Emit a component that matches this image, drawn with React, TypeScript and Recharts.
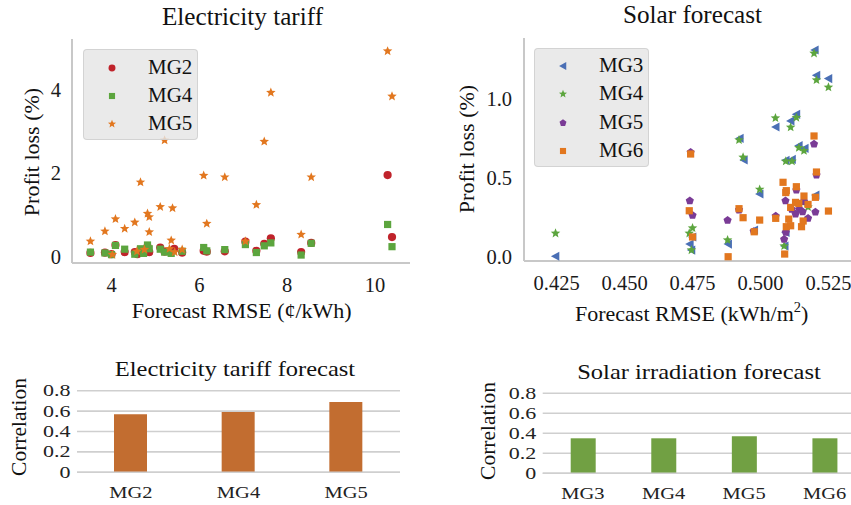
import React from "react";
import {
  ScatterChart,
  Scatter,
  BarChart,
  Bar,
  XAxis,
  YAxis,
  CartesianGrid,
} from "recharts";

// ---- tariff forecast scatter (profit loss % vs RMSE ¢/kWh)
const tariffMG2X = [3.52, 3.85, 4.0, 4.09, 4.3, 4.53, 4.59, 4.82, 4.86, 5.11, 5.21, 5.43, 5.61, 6.1, 6.17, 6.58, 7.05, 7.3, 7.48, 7.63, 8.32, 8.55, 10.29, 10.39];
const tariffMG2Y = [0.09, 0.1, 0.06, 0.28, 0.11, 0.11, 0.06, 0.24, 0.11, 0.22, 0.12, 0.19, 0.1, 0.14, 0.12, 0.13, 0.36, 0.14, 0.31, 0.44, 0.11, 0.33, 1.95, 0.47];
const tariffMG4X = [3.52, 3.85, 4.0, 4.09, 4.3, 4.53, 4.66, 4.73, 4.82, 4.86, 5.11, 5.21, 5.36, 5.61, 6.1, 6.17, 6.58, 7.05, 7.3, 7.48, 7.63, 8.32, 8.55, 10.29, 10.39];
const tariffMG4Y = [0.11, 0.09, 0.05, 0.27, 0.18, 0.06, 0.19, 0.08, 0.28, 0.19, 0.18, 0.11, 0.08, 0.13, 0.22, 0.14, 0.17, 0.29, 0.1, 0.26, 0.33, 0.04, 0.32, 0.77, 0.24];
const tariffMG5X = [3.52, 3.85, 4.02, 4.09, 4.3, 4.53, 4.58, 4.66, 4.75, 4.82, 4.86, 4.86, 5.11, 5.21, 5.32, 5.36, 5.39, 5.44, 5.61, 6.1, 6.17, 6.58, 7.05, 7.3, 7.48, 7.63, 8.32, 8.55, 10.29, 10.39];
const tariffMG5Y = [0.37, 0.61, 0.05, 0.9, 0.67, 0.82, 0.13, 1.78, 0.17, 1.03, 0.95, 0.59, 1.19, 2.78, 0.19, 0.39, 1.16, 0.11, 0.17, 1.94, 0.79, 1.9, 0.37, 1.24, 2.75, 3.92, 0.53, 1.9, 4.91, 3.83];
const tariffXTicks = [4, 6, 8, 10];
const tariffYTicks = [0, 2, 4];

// ---- solar forecast scatter (profit loss % vs RMSE kWh/m2)
const solarMG3X = [0.4246, 0.52, 0.5206, 0.525, 0.5132, 0.5111, 0.5056, 0.4924, 0.5141, 0.5163, 0.5093, 0.5116, 0.4939, 0.4997, 0.5203, 0.474, 0.4746, 0.4881, 0.5089, 0.4977, 0.5093, 0.475];
const solarMG3Y = [0.003, 1.308, 1.148, 1.127, 0.901, 0.859, 0.821, 0.749, 0.703, 0.686, 0.61, 0.616, 0.612, 0.397, 0.39, 0.08, 0.042, 0.08, 0.068, 0.169, 0.154, 0.125];
const solarMG4X = [0.4246, 0.5197, 0.5206, 0.525, 0.5132, 0.5055, 0.5111, 0.4921, 0.5141, 0.516, 0.5093, 0.5116, 0.4936, 0.4997, 0.5175, 0.475, 0.4738, 0.4746, 0.4879, 0.5087];
const solarMG4Y = [0.148, 1.287, 1.118, 1.072, 0.88, 0.878, 0.819, 0.739, 0.69, 0.671, 0.604, 0.604, 0.629, 0.426, 0.315, 0.182, 0.148, 0.042, 0.106, 0.068];
const solarMG5X = [0.474, 0.475, 0.4743, 0.4879, 0.4921, 0.5056, 0.5092, 0.5087, 0.5093, 0.5132, 0.5115, 0.5129, 0.5143, 0.5155, 0.516, 0.5175, 0.5197, 0.5206, 0.5202, 0.4975];
const solarMG5Y = [0.354, 0.262, 0.661, 0.23, 0.296, 0.258, 0.354, 0.11, 0.154, 0.422, 0.3, 0.27, 0.3, 0.285, 0.35, 0.243, 0.713, 0.517, 0.283, 0.16];
const solarMG6X = [0.4743, 0.4738, 0.475, 0.4881, 0.4921, 0.4936, 0.4997, 0.4977, 0.5056, 0.5083, 0.5095, 0.5093, 0.5089, 0.5095, 0.5111, 0.5104, 0.5111, 0.5129, 0.5132, 0.5141, 0.5151, 0.5157, 0.516, 0.5175, 0.5197, 0.5202, 0.5206, 0.525];
const solarMG6Y = [0.65, 0.291, 0.125, 0.0, 0.304, 0.247, 0.232, 0.158, 0.243, 0.471, 0.418, 0.406, 0.017, 0.19, 0.196, 0.238, 0.312, 0.344, 0.443, 0.337, 0.19, 0.226, 0.384, 0.331, 0.764, 0.376, 0.536, 0.289];
const solarXTicks = [0.425, 0.45, 0.475, 0.5, 0.525];
const solarYTicks = [0, 0.5, 1.0];

// ---- correlation bars
const tariffCats = ["MG2", "MG4", "MG5"];
const tariffCorr = [0.57, 0.59, 0.69];
const solarCats = ["MG3", "MG4", "MG5", "MG6"];
const solarCorr = [0.35, 0.35, 0.37, 0.35];
const corrTicks = [0, 0.2, 0.4, 0.6, 0.8];

const FONT = '"Liberation Serif", "Times New Roman", Times, serif';
const AXIS = "#c8c8c8";
const GRID = "#cfcfcf";
const RED = "#c0232b";
const GREEN = "#5ca53e";
const ORANGE = "#e2771f";
const BLUE = "#4a6fb5";
const PURPLE = "#7a3b96";
const BAR_ORANGE = "#c26d30";
const BAR_GREEN = "#71a043";

const zip = (xs: number[], ys: number[]) => xs.map((x, i) => ({ x, y: ys[i] }));

// marker shapes
const Dot = ({ cx, cy, fill }: any) => <circle cx={cx} cy={cy} r={4.1} fill={fill} />;
const Sq = ({ cx, cy, fill }: any) => <rect x={cx - 3.6} y={cy - 3.6} width={7.2} height={7.2} fill={fill} />;
const StarMk = ({ cx, cy, fill }: any) => {
  const pts: string[] = [];
  for (let i = 0; i < 10; i++) {
    const r = i % 2 === 0 ? 5 : 2.2;
    const a = -Math.PI / 2 + (i * Math.PI) / 5;
    pts.push(`${cx + r * Math.cos(a)},${cy + r * Math.sin(a)}`);
  }
  return <polygon points={pts.join(" ")} fill={fill} />;
};
const TriLeft = ({ cx, cy, fill }: any) => (
  <polygon points={`${cx - 4.6},${cy} ${cx + 3.8},${cy - 4.6} ${cx + 3.8},${cy + 4.6}`} fill={fill} />
);
const Pent = ({ cx, cy, fill }: any) => {
  const pts: string[] = [];
  for (let i = 0; i < 5; i++) {
    const a = -Math.PI / 2 + (i * 2 * Math.PI) / 5;
    pts.push(`${cx + 4.3 * Math.cos(a)},${cy + 4.3 * Math.sin(a)}`);
  }
  return <polygon points={pts.join(" ")} fill={fill} />;
};

const tariffSeries = [
  { name: "MG2", data: zip(tariffMG2X, tariffMG2Y), color: RED, Mk: Dot },
  { name: "MG4", data: zip(tariffMG4X, tariffMG4Y), color: GREEN, Mk: Sq },
  { name: "MG5", data: zip(tariffMG5X, tariffMG5Y), color: ORANGE, Mk: StarMk },
];
const solarSeries = [
  { name: "MG3", data: zip(solarMG3X, solarMG3Y), color: BLUE, Mk: TriLeft },
  { name: "MG4", data: zip(solarMG4X, solarMG4Y), color: GREEN, Mk: StarMk },
  { name: "MG5", data: zip(solarMG5X, solarMG5Y), color: PURPLE, Mk: Pent },
  { name: "MG6", data: zip(solarMG6X, solarMG6Y), color: ORANGE, Mk: Sq },
];

const Txt = ({ x, y, size, rotate, squash, children }: any) => (
  <div
    style={{
      position: "absolute",
      left: x,
      top: y,
      transform: `translate(-50%, -50%)${rotate ? " rotate(-90deg)" : ""}${squash ? ` scaleY(${squash})` : ""}`,
      fontSize: size,
      lineHeight: 1.1,
      whiteSpace: "nowrap",
      color: "#111",
    }}
  >
    {children}
  </div>
);

const LegendBox = ({ left, top, width, rows }: any) => (
  <div
    style={{
      position: "absolute",
      left,
      top,
      width,
      height: rows.length * 28.4 + 6,
      background: "rgba(229,229,229,0.82)",
      border: "1px solid rgba(205,205,205,0.8)",
      borderRadius: 4,
      boxSizing: "border-box",
    }}
  >
    {rows.map((s: any, i: number) => (
      <React.Fragment key={s.name}>
        <svg width={14} height={14} style={{ position: "absolute", left: 21, top: 10.5 + i * 28.4 }}>
          <g transform="translate(7,7) scale(0.85) translate(-7,-7)">
            <s.Mk cx={7} cy={7} fill={s.color} />
          </g>
        </svg>
        <div style={{ position: "absolute", left: 64, top: 17.5 + i * 28.4, transform: "translateY(-50%)", fontSize: 21, lineHeight: 1.1, color: "#111" }}>
          {s.name}
        </div>
      </React.Fragment>
    ))}
  </div>
);

const CorrYTick = ({ x, y, payload }: any) => (
  <text transform={`translate(${x - 6.5},${y}) scale(1,0.75)`} textAnchor="end" dominantBaseline="central"
    style={{ fontSize: 22, fontFamily: FONT }} fill="#222">
    {payload.value}
  </text>
);
const CorrXTick = ({ x, y, payload }: any) => (
  <text transform={`translate(${x},${y + 19.5}) scale(1,0.85)`} textAnchor="middle" dominantBaseline="central"
    style={{ fontSize: 20.5, fontFamily: FONT }} fill="#222">
    {payload.value}
  </text>
);

const tickStyle = { fontSize: 20.5, fill: "#1a1a1a", fontFamily: FONT };

export default function App() {
  const tariffBars = tariffCats.map((c, i) => ({ cat: c, corr: tariffCorr[i] }));
  const solarBars = solarCats.map((c, i) => ({ cat: c, corr: solarCorr[i] }));
  return (
    <div style={{ position: "absolute", left: 0, top: 0, width: 851, height: 505, overflow: "hidden", background: "#fff", fontFamily: FONT }}>
      {/* top-left */}
      <div style={{ position: "absolute", left: 0, top: 0 }}>
        <ScatterChart width={420} height={330} margin={{ top: 39, right: 10, bottom: 0, left: 0 }}>
          <XAxis type="number" dataKey="x" domain={[3.1, 10.8]} ticks={tariffXTicks} interval={0} allowDataOverflow
            height={67} axisLine={{ stroke: AXIS, strokeWidth: 2 }} tickLine={false} tickSize={0} tickMargin={14.5} tick={tickStyle} />
          <YAxis type="number" dataKey="y" domain={[-0.15, 5.2]} ticks={tariffYTicks} interval={0} allowDataOverflow
            width={72} axisLine={{ stroke: AXIS, strokeWidth: 2 }} tickLine={false} tickSize={0} tickMargin={11} tick={tickStyle} />
          {tariffSeries.map((s) => (
            <Scatter key={s.name} name={s.name} data={s.data} fill={s.color} isAnimationActive={false}
              shape={(p: any) => <s.Mk cx={p.cx} cy={p.cy} fill={s.color} />} />
          ))}
        </ScatterChart>
      </div>
      <LegendBox left={83} top={49} width={115} rows={tariffSeries} />
      <Txt x={242.5} y={17} size={25.2}>Electricity tariff</Txt>
      <Txt x={241.7} y={311} size={22}>Forecast RMSE (¢/kWh)</Txt>
      <Txt x={32} y={151.7} size={22}>
        <span style={{ display: "inline-block", transform: "rotate(-90deg)" }}>Profit loss (%)</span>
      </Txt>

      {/* top-right */}
      <div style={{ position: "absolute", left: 420, top: 0 }}>
        <ScatterChart width={431} height={330} margin={{ top: 38, right: 0, bottom: 0, left: 0 }}>
          <XAxis type="number" dataKey="x" domain={[0.413, 0.5333]} ticks={solarXTicks} interval={0} allowDataOverflow
            height={69} axisLine={{ stroke: AXIS, strokeWidth: 2 }} tickLine={false} tickSize={0} tickMargin={14.5}
            tick={tickStyle} tickFormatter={(v: number) => v.toFixed(3)} />
          <YAxis type="number" dataKey="y" domain={[-0.027, 1.384]} ticks={solarYTicks} interval={0} allowDataOverflow
            width={104} axisLine={{ stroke: AXIS, strokeWidth: 2 }} tickLine={false} tickSize={0} tickMargin={12}
            tick={tickStyle} tickFormatter={(v: number) => v.toFixed(1)} />
          {solarSeries.map((s) => (
            <Scatter key={s.name} name={s.name} data={s.data} fill={s.color} isAnimationActive={false}
              shape={(p: any) => <s.Mk cx={p.cx} cy={p.cy} fill={s.color} />} />
          ))}
        </ScatterChart>
      </div>
      <LegendBox left={534} top={47.5} width={115} rows={solarSeries} />
      <Txt x={692.5} y={15} size={25.2}>Solar forecast</Txt>
      <Txt x={691.7} y={313} size={22}>
        Forecast RMSE (kWh/m<sup style={{ fontSize: 14.5 }}>2</sup>)
      </Txt>
      <Txt x={466.7} y={149} size={22}>
        <span style={{ display: "inline-block", transform: "rotate(-90deg)" }}>Profit loss (%)</span>
      </Txt>

      {/* bottom-left */}
      <div style={{ position: "absolute", left: 0, top: 350 }}>
        <BarChart width={420} height={155} data={tariffBars} margin={{ top: 40.7, right: 20, bottom: 0, left: 0 }}>
          <CartesianGrid vertical={false} stroke={GRID} strokeWidth={1.6} />
          <XAxis dataKey="cat" height={32.7} axisLine={{ stroke: GRID, strokeWidth: 1.6 }} tickLine={false} tickSize={0} tickMargin={0} tick={<CorrXTick />} interval={0} />
          <YAxis type="number" domain={[0, 0.8]} ticks={corrTicks} interval={0} width={77} axisLine={false} tickLine={false} tickSize={0} tickMargin={0} tick={<CorrYTick />} />
          <Bar dataKey="corr" fill={BAR_ORANGE} barSize={33} isAnimationActive={false} />
        </BarChart>
      </div>
      <Txt x={235} y={368.8} size={24.5} squash={0.88}>Electricity tariff forecast</Txt>
      <Txt x={19.5} y={426.7} size={21.5}>
        <span style={{ display: "inline-block", transform: "rotate(-90deg)" }}>Correlation</span>
      </Txt>

      {/* bottom-right */}
      <div style={{ position: "absolute", left: 470, top: 350 }}>
        <BarChart width={395} height={155} data={solarBars} margin={{ top: 43.3, right: 0, bottom: 0, left: 0 }}>
          <CartesianGrid vertical={false} stroke={GRID} strokeWidth={1.6} />
          <XAxis dataKey="cat" height={31.7} axisLine={{ stroke: GRID, strokeWidth: 1.6 }} tickLine={false} tickSize={0} tickMargin={0} tick={<CorrXTick />} interval={0} />
          <YAxis type="number" domain={[0, 0.8]} ticks={corrTicks} interval={0} width={72.7} axisLine={false} tickLine={false} tickSize={0} tickMargin={0} tick={<CorrYTick />} />
          <Bar dataKey="corr" fill={BAR_GREEN} barSize={25} isAnimationActive={false} />
        </BarChart>
      </div>
      <Txt x={699} y={372.2} size={24.5} squash={0.88}>Solar irradiation forecast</Txt>
      <Txt x={489.2} y={430.8} size={21.5}>
        <span style={{ display: "inline-block", transform: "rotate(-90deg)" }}>Correlation</span>
      </Txt>
    </div>
  );
}
